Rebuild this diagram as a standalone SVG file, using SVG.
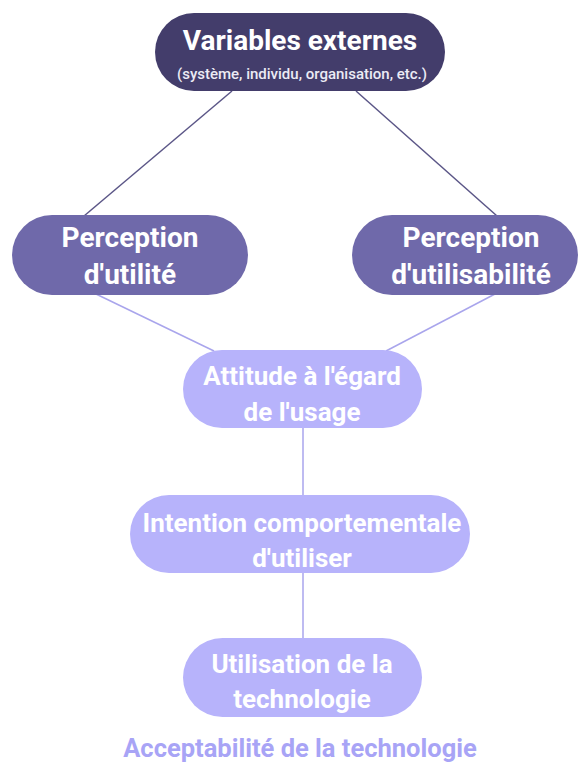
<svg xmlns="http://www.w3.org/2000/svg" width="579" height="765" viewBox="0 0 579 765">
<style>
.t{font-family:Roboto,"Liberation Sans",sans-serif;font-weight:bold;fill:#ffffff;text-anchor:middle}
.big{font-size:26px}
.lg{font-size:28px}
.sub{font-size:15px;font-weight:500;fill:#ecebf5}
.dark{fill:#433d6b}
.mid{fill:#6f69aa}
.light{fill:#b7b3fb}
.c1{stroke:#5b5687;stroke-width:1.5;fill:none}
.c2{stroke:#a9a5ec;stroke-width:1.5;fill:none}
.cap{font-family:Roboto,"Liberation Sans",sans-serif;font-weight:bold;font-size:25.5px;fill:#a8a4f6;text-anchor:middle}
</style>
<rect width="579" height="765" fill="#ffffff"/>
<g id="connectors">
<line class="c1" x1="232" y1="91" x2="84" y2="216"/>
<line class="c1" x1="356" y1="91" x2="497" y2="216"/>
<line class="c2" x1="96" y1="294" x2="214" y2="351"/>
<line class="c2" x1="495" y1="294" x2="386" y2="351"/>
<line class="c2" x1="303" y1="428" x2="303" y2="496"/>
<line class="c2" x1="303" y1="572" x2="303" y2="639"/>
</g>
<g id="variables">
<rect class="dark" x="155" y="13" width="290" height="78" rx="39"/>
<text class="t lg" x="300" y="50">Variables externes</text>
<text class="t sub" x="302" y="79">(système, individu, organisation, etc.)</text>
</g>
<g id="utilite">
<rect class="mid" x="12" y="215" width="236" height="80" rx="40"/>
<text class="t lg" x="130" y="247">Perception</text>
<text class="t lg" x="130" y="284">d'utilité</text>
</g>
<g id="utilisabilite">
<rect class="mid" x="352" y="215" width="226" height="80" rx="40"/>
<text class="t lg" x="471" y="247">Perception</text>
<text class="t lg" x="471" y="284">d'utilisabilité</text>
</g>
<g id="attitude">
<rect class="light" x="183" y="350" width="239" height="78" rx="39"/>
<text class="t big" x="302" y="385">Attitude à l'égard</text>
<text class="t big" x="302" y="421">de l'usage</text>
</g>
<g id="intention">
<rect class="light" x="130" y="495" width="340" height="78" rx="39"/>
<text class="t big" x="302" y="532">Intention comportementale</text>
<text class="t big" x="302" y="567">d'utiliser</text>
</g>
<g id="utilisation">
<rect class="light" x="183" y="638" width="239" height="79" rx="39.5"/>
<text class="t big" x="302" y="673">Utilisation de la</text>
<text class="t big" x="302" y="708">technologie</text>
</g>
<g id="caption">
<text class="cap" x="300" y="757">Acceptabilité de la technologie</text>
</g>
</svg>
